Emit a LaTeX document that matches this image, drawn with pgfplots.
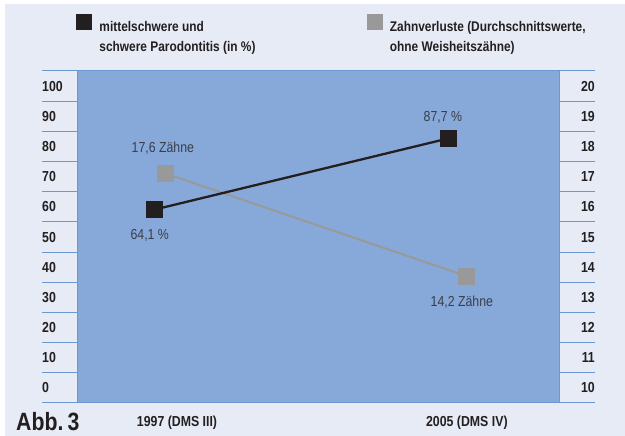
\documentclass[border=0pt]{standalone}
\usepackage{fontspec}
\setmainfont[FakeStretch=0.85]{Liberation Sans}
\usepackage{pgfplots}
\pgfplotsset{compat=1.18}
\definecolor{bgblue}{HTML}{E6EBF6}
\definecolor{plotblue}{HTML}{87A9D9}
\definecolor{lineblue}{HTML}{6B97D2}
\definecolor{darkmark}{HTML}{231F20}
\definecolor{graymark}{HTML}{999999}
\definecolor{labeltext}{HTML}{3A3D4A}
\tikzset{datalabel/.style={anchor=center, inner sep=0pt, font=\fontsize{14.5}{16}\selectfont, text=labeltext}}
\begin{document}
\begin{tikzpicture}[x=1pt,y=1pt]
\useasboundingbox (0,0) rectangle (625,436);
\fill[white] (0,0) rectangle (625,436);
\fill[bgblue] (5,0) rectangle (625,432);
\pgfplotsset{
  common/.style={
    at={(78pt,33pt)}, anchor=south west,
    width=481pt, height=332pt, scale only axis,
    xmin=-0.292, xmax=1.306,
    clip=false,
    /pgf/number format/assume math mode=true,
    tick align=outside,
    major tick length=36pt,
    tick style={lineblue, line width=1pt},
    ticklabel style={font=\bfseries\fontsize{14.5}{16}\selectfont, text=darkmark, inner sep=0pt},
  }
}
% right axis (Zahnverluste), with background
\begin{axis}[common,
  axis background/.style={fill=plotblue},
  axis line style={lineblue, line width=1pt},
  ymin=10, ymax=21,
  ytick={10,11,12,13,14,15,16,17,18,19,20,21},
  yticklabels={10,11,12,13,14,15,16,17,18,19,20,{}},
  ytick pos=right, yticklabel pos=right,
  yticklabel style={anchor=east, yshift=15pt},
  xtick={0.037,1}, xticklabels={1997 (DMS III), 2005 (DMS IV)},
  xtick pos=bottom,
  x tick style={draw=none},
  xticklabel style={anchor=center, yshift=16pt},
]
\addplot[graymark, line width=2pt, mark=square*, mark size=7.5pt,
  mark options={solid, fill=graymark, draw=none},
  nodes near coords, point meta=explicit symbolic,
  visualization depends on={\thisrow{dx}\as\dx},
  visualization depends on={\thisrow{dy}\as\dy},
  every node near coord/.append style={datalabel, xshift=\dx pt, yshift=\dy pt}]
  table[col sep=semicolon, meta=lab] {
x;y;dx;dy;lab
0;17.6;-3;25;17,6 Zähne
1;14.2;-5;-26;14,2 Zähne
};
\end{axis}
% left axis (Parodontitis)
\begin{axis}[common,
  axis line style={draw=none},
  hide x axis,
  ymin=0, ymax=110,
  ytick={0,10,20,30,40,50,60,70,80,90,100,110},
  yticklabels={0,10,20,30,40,50,60,70,80,90,100,{}},
  ytick pos=left, yticklabel pos=left,
  yticklabel style={anchor=west, yshift=15pt},
  legend columns=2,
  legend cell align=left,
  legend style={at={(axis description cs:-0.004,1.172)}, anchor=north west,
    draw=none, fill=none, inner sep=0pt, outer sep=0pt,
    nodes={inner sep=0pt, align=left, font=\bfseries\fontsize{14}{20}\selectfont, text=darkmark},
    /tikz/every odd column/.append style={column sep=8pt},
    /tikz/every even column/.append style={column sep=111pt}},
]
\addlegendimage{legend image code/.code={\fill[darkmark] (0pt,8pt) rectangle (15pt,23pt);}}
\addlegendentry{mittelschwere und\\schwere Parodontitis (in \%)}
\addlegendimage{legend image code/.code={\fill[graymark] (0pt,8pt) rectangle (15pt,23pt);}}
\addlegendentry{Zahnverluste (Durchschnittswerte,\\ohne Weisheitszähne)}
\addplot[darkmark, line width=2.3pt, mark=square*, mark size=7.5pt,
  mark options={solid, fill=darkmark, draw=none}, forget plot,
  nodes near coords, point meta=explicit symbolic,
  visualization depends on={\thisrow{dx}\as\dx},
  visualization depends on={\thisrow{dy}\as\dy},
  every node near coord/.append style={datalabel, xshift=\dx pt, yshift=\dy pt}]
  table[col sep=semicolon, meta=lab] {
x;y;dx;dy;lab
-0.037;64.1;-5;-26;64,1 \%
0.94;87.7;-6;21;87,7 \%
};
\end{axis}
\node[anchor=west, inner sep=0pt, font=\bfseries\fontsize{25}{28}\selectfont, text=darkmark] at (16,14) {Abb.\,3};
\end{tikzpicture}
\end{document}
